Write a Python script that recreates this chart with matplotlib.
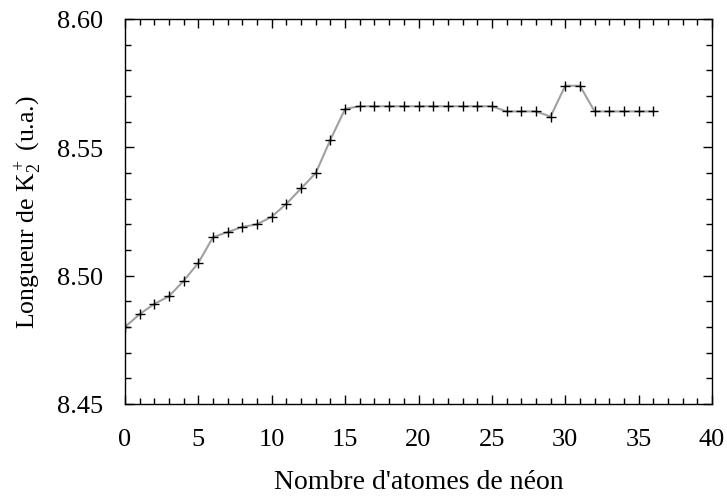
import matplotlib
matplotlib.use('Agg')
import matplotlib.pyplot as plt
from matplotlib.ticker import MultipleLocator

plt.rcParams['font.family'] = ['Liberation Serif', 'DejaVu Serif']
plt.rcParams['mathtext.fontset'] = 'custom'
plt.rcParams['mathtext.rm'] = 'Liberation Serif'
plt.rcParams['mathtext.it'] = 'Liberation Serif:italic'

# Number of neon atoms and K2+ bond length (a.u.)
n_atoms = list(range(0, 37))
bond_length = [8.480, 8.485, 8.489, 8.492, 8.498, 8.505, 8.515, 8.517, 8.519, 8.520,
               8.523, 8.528, 8.534, 8.540, 8.553, 8.565, 8.566, 8.566, 8.566, 8.566,
               8.566, 8.566, 8.566, 8.566, 8.566, 8.566, 8.564, 8.564, 8.564, 8.562,
               8.574, 8.574, 8.564, 8.564, 8.564, 8.564, 8.564]

fig = plt.figure(figsize=(7.27, 5.02), dpi=100)
ax = fig.add_axes([125 / 727, 1 - 405 / 502, 587 / 727, 385 / 502])

ax.plot(n_atoms, bond_length, color='#a0a0a0', lw=1.5, zorder=1)
ax.plot(n_atoms, bond_length, ls='none', marker='+', color='black', ms=7, mew=1.0, zorder=2)

ax.set_xlim(0, 40)
ax.set_ylim(8.45, 8.60)
ax.xaxis.set_major_locator(MultipleLocator(5))
ax.xaxis.set_minor_locator(MultipleLocator(1))
ax.yaxis.set_major_locator(MultipleLocator(0.05))
ax.yaxis.set_minor_locator(MultipleLocator(0.01))
ax.yaxis.set_major_formatter(plt.FormatStrFormatter('%.2f'))
ax.tick_params(which='both', direction='in', top=True, right=True, labelsize=19, width=1)
ax.tick_params(which='major', length=6.5)
ax.tick_params(which='minor', length=4)
ax.tick_params(axis='x', which='major', pad=17)
ax.tick_params(axis='y', which='major', pad=16)
for s in ax.spines.values():
    s.set_linewidth(1)

ax.set_xlabel("Nombre d'atomes de néon", fontsize=20, labelpad=14)
ax.set_ylabel('Longueur de K$_2^+$ (u.a.)', fontsize=18.5)
ax.yaxis.set_label_coords(-0.14, 0.5)

fig.savefig('out.png', dpi=100)
